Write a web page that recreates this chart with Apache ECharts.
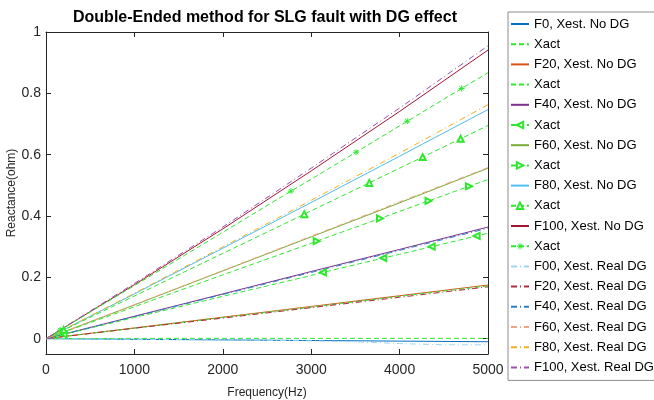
<!DOCTYPE html>
<html>
<head>
<meta charset="utf-8">
<script src="https://cdn.jsdelivr.net/npm/echarts@6/dist/echarts.min.js"></script>
<style>
  html, body { margin: 0; padding: 0; background: #fff; }
  #chart { width: 654px; height: 400px; }
</style>
</head>
<body>
<div id="chart"></div>
<script>
// frequency points (Hz) the curves were read at
const freq = [0, 1000, 2000, 3000, 4000, 5000];
const freqF00 = [0, 1000, 2000, 3000, 3500, 4000, 4500, 5000];

// estimated reactance, no DG
const noDG = {
  F0:   [0, -0.002, -0.004, -0.006, -0.008, -0.010],
  F20:  [0, 0.035, 0.070, 0.105, 0.140, 0.175],
  F40:  [0, 0.073, 0.146, 0.219, 0.291, 0.364],
  F60:  [0, 0.110, 0.221, 0.332, 0.443, 0.556],
  F80:  [0, 0.146, 0.295, 0.444, 0.595, 0.747],
  F100: [0, 0.176, 0.358, 0.547, 0.741, 0.941]
};

// actual reactance
const xact = {
  F0:   [0, 0.001, 0.001, 0.001, 0.001, 0.001],
  F20:  [0, 0.034, 0.069, 0.103, 0.138, 0.172],
  F40:  [0, 0.069, 0.138, 0.206, 0.275, 0.344],
  F60:  [0, 0.104, 0.208, 0.311, 0.415, 0.519],
  F80:  [0, 0.139, 0.278, 0.417, 0.556, 0.695],
  F100: [0, 0.173, 0.347, 0.520, 0.694, 0.867]
};

// marker points on the Xact lines [Hz, ohm]
const marksF40  = [[200, 0.014], [3133, 0.216], [3816, 0.263], [4363, 0.300], [4872, 0.335]];
const marksF60  = [[200, 0.021], [3062, 0.318], [3778, 0.392], [4327, 0.449], [4785, 0.497]];
const marksF80  = [[200, 0.028], [2922, 0.406], [3657, 0.508], [4261, 0.592], [4691, 0.652]];
const marksF100 = [[160, 0.028], [2771, 0.481], [3507, 0.608], [4087, 0.709], [4702, 0.816]];

// estimated reactance, real DG
const realDG = {
  F00:  [0, -0.002, -0.004, -0.007, -0.010, -0.016, -0.020, -0.020],
  F20:  [0, 0.034, 0.067, 0.101, 0.135, 0.169],
  F40:  [0, 0.072, 0.144, 0.216, 0.288, 0.360],
  F60:  [0, 0.111, 0.222, 0.334, 0.446, 0.558],
  F80:  [0, 0.148, 0.299, 0.451, 0.605, 0.763],
  F100: [0, 0.180, 0.364, 0.556, 0.752, 0.955]
};

const green = '#2ee82e';
const dashDot = [6, 3, 1, 3];
const asterisk = 'path://M5,0L5,10M0,5L10,5M1.5,1.5L8.5,8.5M8.5,1.5L1.5,8.5';

const pairs = (xs, ys) => xs.map((x, i) => [x, ys[i]]);

function solid(name, xs, ys, color) {
  return {
    name, type: 'line', data: pairs(xs, ys), symbol: 'none',
    lineStyle: { color, width: 1 }, itemStyle: { color }
  };
}

function dotted(name, xs, ys, color) {
  return {
    name, type: 'line', data: pairs(xs, ys), symbol: 'none',
    lineStyle: { color, width: 1, type: dashDot }, itemStyle: { color }
  };
}

function actual(name, ys, marks, symbol, rotate) {
  let pts = pairs(freq, ys).map(p => ({ value: p, symbol: 'none' }));
  if (marks) {
    pts = pts.concat(marks.map(p => ({ value: p })));
    pts.sort((a, b) => a.value[0] - b.value[0]);
  }
  return {
    name, type: 'line', data: pts,
    symbol: symbol || 'none', symbolSize: 6, symbolRotate: rotate || 0,
    lineStyle: { color: green, width: 1, type: [5, 3] },
    itemStyle: { color: green, borderColor: green, borderWidth: 1 }
  };
}

const series = [
  solid('F0, Xest. No DG', freq, noDG.F0, '#0072BD'),
  actual('Xact#1', xact.F0),
  solid('F20, Xest. No DG', freq, noDG.F20, '#D95319'),
  actual('Xact#2', xact.F20),
  solid('F40, Xest. No DG', freq, noDG.F40, '#7E2F8E'),
  actual('Xact#3', xact.F40, marksF40, 'emptyTriangle', 90),
  solid('F60, Xest. No DG', freq, noDG.F60, '#77AC30'),
  actual('Xact#4', xact.F60, marksF60, 'emptyTriangle', -90),
  solid('F80, Xest. No DG', freq, noDG.F80, '#4DBEEE'),
  actual('Xact#5', xact.F80, marksF80, 'emptyTriangle', 0),
  solid('F100, Xest. No DG', freq, noDG.F100, '#A2142F'),
  actual('Xact#6', xact.F100, marksF100, asterisk, 0),
  dotted('F00, Xest. Real DG', freqF00, realDG.F00, '#9fd6f2'),
  dotted('F20, Xest. Real DG', freq, realDG.F20, '#b02a45'),
  dotted('F40, Xest. Real DG', freq, realDG.F40, '#2a7fc4'),
  dotted('F60, Xest. Real DG', freq, realDG.F60, '#f2a384'),
  dotted('F80, Xest. Real DG', freq, realDG.F80, '#EDB120'),
  dotted('F100, Xest. Real DG', freq, realDG.F100, '#9b4fae')
];

// legend entries: hide the symbol for plain lines
const legendData = series.map(s => {
  if (s.symbol === 'none') return { name: s.name, itemStyle: { opacity: 0 } };
  if (s.symbol === asterisk) {
    return { name: s.name, itemStyle: { color: 'none', borderColor: green, borderWidth: 1 } };
  }
  return { name: s.name };
});

const axisColor = '#262626';
const font = 'Liberation Sans, Arial, sans-serif';

const baseX = {
  type: 'value', min: 0, max: 5000, interval: 1000,
  axisLine: { show: true, onZero: false, lineStyle: { color: axisColor, width: 1 } },
  axisTick: { show: true, inside: true, length: 5, lineStyle: { color: axisColor } },
  splitLine: { show: false }
};
const baseY = {
  type: 'value', min: -0.05, max: 1, minInterval: 0.2, maxInterval: 0.2,
  axisLine: { show: true, onZero: false, lineStyle: { color: axisColor, width: 1 } },
  axisTick: { show: true, inside: true, length: 5, lineStyle: { color: axisColor } },
  splitLine: { show: false }
};

const myChart = echarts.init(document.getElementById('chart'), null, { renderer: 'canvas' });
myChart.setOption({
  animation: false,
  backgroundColor: '#fff',
  title: {
    text: 'Double-Ended method for SLG fault with DG effect',
    left: 260, top: 5, textAlign: 'center',
    textStyle: { fontSize: 16, fontWeight: 'bold', color: '#000', fontFamily: font }
  },
  grid: { left: 46, right: 166, top: 32, bottom: 46, containLabel: false, outerBoundsMode: 'none' },
  legend: {
    orient: 'vertical', left: 508, top: 12,
    padding: [5, 30, 6, 2],
    itemWidth: 18, itemHeight: 8, itemGap: 6.2,
    backgroundColor: '#fff', borderColor: '#8c8c8c', borderWidth: 1,
    textStyle: { fontSize: 13, color: '#000', fontFamily: font, lineHeight: 14 },
    formatter: name => name.split('#')[0],
    data: legendData
  },
  xAxis: [
    Object.assign({}, baseX, {
      position: 'bottom',
      name: 'Frequency(Hz)', nameLocation: 'middle', nameGap: 33, nameMoveOverlap: false,
      nameTextStyle: { fontSize: 12, color: axisColor, fontFamily: font },
      axisLabel: { fontSize: 14, color: axisColor, fontFamily: font, margin: 9, formatter: v => String(v) }
    }),
    Object.assign({}, baseX, { position: 'top', axisLabel: { show: false } })
  ],
  yAxis: [
    Object.assign({}, baseY, {
      position: 'left',
      name: 'Reactance(ohm)', nameLocation: 'middle', nameGap: 28, nameMoveOverlap: false,
      nameTextStyle: { fontSize: 12, color: axisColor, fontFamily: font },
      axisLabel: {
        fontSize: 14, color: axisColor, fontFamily: font, margin: 5,
        showMinLabel: false,
        formatter: v => (v < -0.01 ? '' : String(Math.round(v * 10) / 10))
      }
    }),
    Object.assign({}, baseY, { position: 'right', axisLabel: { show: false } })
  ],
  series: series
});
</script>
</body>
</html>
